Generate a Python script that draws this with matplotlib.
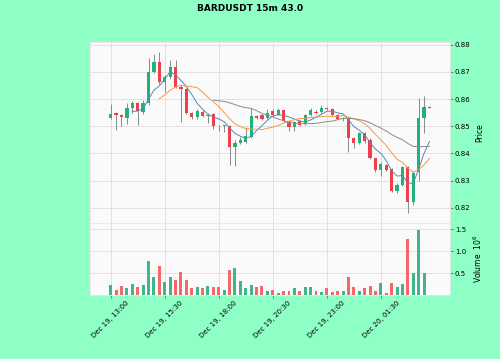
import numpy as np
import pandas as pd
import matplotlib
matplotlib.use("Agg")
import matplotlib.pyplot as plt

# 15m candles, BARDUSDT, starting Dec 19 13:00
opens = [0.8530, 0.8548, 0.8542, 0.8530, 0.8568, 0.8585, 0.8552, 0.8585, 0.8701, 0.8738,
         0.8662, 0.8680, 0.8719, 0.8646, 0.8637, 0.8550, 0.8535, 0.8554, 0.8537, 0.8545,
         0.8502, 0.8500, 0.8501, 0.8425, 0.8440, 0.8443, 0.8462, 0.8538, 0.8540, 0.8530,
         0.8555, 0.8543, 0.8560, 0.8521, 0.8496, 0.8519, 0.8508, 0.8540, 0.8552, 0.8554,
         0.8566, 0.8562, 0.8540, 0.8528, 0.8532, 0.8456, 0.8440, 0.8474, 0.8450, 0.8382,
         0.8339, 0.8358, 0.8343, 0.8260, 0.8284, 0.8351, 0.8223, 0.8333, 0.8529, 0.8572]
highs = [0.8581, 0.8552, 0.8545, 0.8584, 0.8593, 0.8590, 0.8595, 0.8750, 0.8765, 0.8775,
         0.8690, 0.8744, 0.8744, 0.8650, 0.8642, 0.8553, 0.8562, 0.8560, 0.8548, 0.8548,
         0.8505, 0.8506, 0.8505, 0.8448, 0.8462, 0.8496, 0.8566, 0.8542, 0.8545, 0.8562,
         0.8562, 0.8566, 0.8563, 0.8524, 0.8518, 0.8522, 0.8545, 0.8566, 0.8560, 0.8578,
         0.8570, 0.8568, 0.8545, 0.8535, 0.8535, 0.8460, 0.8480, 0.8480, 0.8455, 0.8385,
         0.8368, 0.8362, 0.8348, 0.8290, 0.8355, 0.8355, 0.8335, 0.8603, 0.8611, 0.8573]
lows = [0.8528, 0.8485, 0.8502, 0.8510, 0.8550, 0.8504, 0.8545, 0.8580, 0.8695, 0.8655,
        0.8627, 0.8675, 0.8640, 0.8517, 0.8545, 0.8528, 0.8528, 0.8533, 0.8511, 0.8490,
        0.8482, 0.8478, 0.8358, 0.8354, 0.8435, 0.8437, 0.8458, 0.8525, 0.8522, 0.8525,
        0.8538, 0.8540, 0.8515, 0.8483, 0.8483, 0.8502, 0.8505, 0.8536, 0.8544, 0.8550,
        0.8558, 0.8538, 0.8525, 0.8520, 0.8405, 0.8420, 0.8435, 0.8440, 0.8378, 0.8330,
        0.8317, 0.8335, 0.8258, 0.8255, 0.8280, 0.8181, 0.8210, 0.8300, 0.8474, 0.8567]
closes = [0.8546, 0.8540, 0.8533, 0.8568, 0.8585, 0.8555, 0.8585, 0.8701, 0.8738, 0.8663,
          0.8680, 0.8719, 0.8646, 0.8636, 0.8550, 0.8535, 0.8555, 0.8538, 0.8541, 0.8501,
          0.8500, 0.8504, 0.8423, 0.8440, 0.8449, 0.8464, 0.8538, 0.8530, 0.8528, 0.8550,
          0.8543, 0.8560, 0.8520, 0.8496, 0.8514, 0.8505, 0.8540, 0.8560, 0.8548, 0.8566,
          0.8562, 0.8542, 0.8528, 0.8531, 0.8456, 0.8438, 0.8474, 0.8447, 0.8382, 0.8339,
          0.8361, 0.8339, 0.8260, 0.8284, 0.8351, 0.8223, 0.8329, 0.8529, 0.8570, 0.8568]
volumes = [0.22, 0.12, 0.20, 0.17, 0.25, 0.18, 0.23, 0.77, 0.41, 0.65,
           0.30, 0.42, 0.35, 0.53, 0.34, 0.15, 0.19, 0.15, 0.20, 0.18,
           0.18, 0.11, 0.58, 0.62, 0.31, 0.15, 0.22, 0.18, 0.20, 0.08,
           0.11, 0.04, 0.08, 0.08, 0.15, 0.08, 0.18, 0.18, 0.09, 0.06,
           0.15, 0.06, 0.08, 0.10, 0.40, 0.18, 0.08, 0.16, 0.20, 0.10,
           0.27, 0.05, 0.28, 0.18, 0.26, 1.28, 0.51, 1.49, 0.51, 0.01]  # millions
mav_windows = [5, 10, 20]
mav_colors = ["#5b87b0", "#f39b45", "#8c8c8c"]

df = pd.DataFrame({"Open": opens, "High": highs, "Low": lows, "Close": closes,
                   "Volume": np.array(volumes) * 1e6},
                  index=pd.date_range("2024-12-19 13:00", periods=len(opens), freq="15min"))

bg = "#8effc5"
face = "#fafafa"
up_c, down_c = "#20b27a", "#f03e4b"
vup_c, vdown_c = "#40b58c", "#f2686b"
grid_c = "#dedede"

fig = plt.figure(figsize=(5, 3.59), dpi=100, facecolor=bg)
ax1 = fig.add_axes([0.18, 1 - 223 / 359, 0.72, (223 - 42) / 359])
ax2 = fig.add_axes([0.18, 1 - 295 / 359, 0.72, (295 - 223) / 359], sharex=ax1)

x = np.arange(len(df))
up = df["Close"] >= df["Open"]
colors = np.where(up, up_c, down_c)

for ax in (ax1, ax2):
    ax.set_facecolor(face)
    ax.grid(True, color=grid_c, lw=0.6)
    ax.set_axisbelow(True)
    for s in ax.spines.values():
        s.set_color("#e6e6e6")
        s.set_linewidth(0.6)
    ax.yaxis.tick_right()
    ax.tick_params(labelsize=5, length=2, width=0.5, color="#555555", pad=1.5)

# candles
ax1.vlines(x, df["Low"], df["High"], color="#8a8a8a", lw=0.7, zorder=2)
ax1.bar(x, (df["Close"] - df["Open"]).abs().clip(lower=0.00025),
        bottom=np.minimum(df["Open"], df["Close"]), width=0.6, color=colors, zorder=3)

# moving averages
for w, c in zip(mav_windows, mav_colors):
    ax1.plot(x, df["Close"].rolling(w).mean(), color=c, lw=0.7, zorder=4)

ax1.set_ylim(0.8144, 0.8810)
ax1.set_yticks(np.arange(0.82, 0.8801, 0.01))
ax1.set_yticklabels([f"{v:.2f}" for v in np.arange(0.82, 0.8801, 0.01)])
ax1.set_ylabel("Price", fontsize=5.5)
ax1.yaxis.set_label_position("right")
ax1.yaxis.set_label_coords(1.07, 0.5)
ax1.tick_params(axis="x", labelbottom=False, length=0)

# volume
vcolors = np.where(up, vup_c, vdown_c)
ax2.bar(x, df["Volume"], width=0.55, color=vcolors, zorder=3)
ax2.set_ylim(0, 1.64e6)
ax2.set_yticks([0.5e6, 1.0e6, 1.5e6])
ax2.set_yticklabels(["0.5", "1.0", "1.5"])
ax2.set_ylabel("Volume  $10^{6}$", fontsize=5.5)
ax2.yaxis.set_label_position("right")
ax2.yaxis.set_label_coords(1.06, 0.5)

ticks = list(range(0, len(df), 10))
ax2.set_xticks(ticks)
ax2.set_xticklabels([df.index[i].strftime("%b %d, %H:%M") for i in ticks], rotation=45)
ax2.set_xlim(-3.83, 62.8)

fig.suptitle("BARDUSDT 15m 43.0", fontsize=6.5, fontweight="bold", y=0.99)

fig.savefig("out.png", dpi=100, facecolor=bg)
